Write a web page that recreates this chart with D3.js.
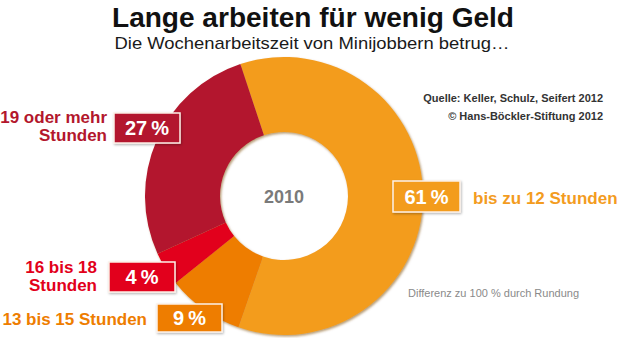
<!DOCTYPE html>
<html>
<head>
<meta charset="utf-8">
<script src="https://cdn.jsdelivr.net/npm/d3@7"></script>
<style>
  html, body { margin: 0; padding: 0; background: #fff; }
  svg { display: block; }
  text { font-family: "Liberation Sans", Arial, Helvetica, sans-serif; }
</style>
</head>
<body>
<svg id="chart" width="620" height="338"></svg>
<script>
// Weekly working hours of mini-jobbers, 2010 (shares in %)
const categories = ["bis zu 12 Stunden", "13 bis 15 Stunden", "16 bis 18 Stunden", "19 oder mehr Stunden"];
const values = [61, 9, 4, 27];
const palette = ["#F39C1F", "#EE7D00", "#E2001A", "#B3172D"];
const yearLabel = "2010";

const title = "Lange arbeiten für wenig Geld";
const subtitle = "Die Wochenarbeitszeit von Minijobbern betrug…";
const sourceLines = ["Quelle: Keller, Schulz, Seifert 2012", "\u00A9 Hans-Böckler-Stiftung 2012"];
const footnote = "Differenz zu 100 % durch Rundung";

// Placement of the category captions and value boxes
const labelLayout = [
  { box: [393, 181, 67, 31], lines: ["bis zu 12 Stunden"], anchor: "start", x: 473, y: [204] },
  { box: [157, 304, 65, 28], lines: ["13 bis 15 Stunden"], anchor: "end", x: 147, y: [325] },
  { box: [109, 262, 66, 30], lines: ["16 bis 18", "Stunden"], anchor: "end", x: 97, y: [273, 291] },
  { box: [114, 113, 66, 30], lines: ["19 oder mehr", "Stunden"], anchor: "end", x: 107, y: [123, 141] }
];

const svg = d3.select("#chart");
const defs = svg.append("defs");

const ringShadow = defs.append("filter").attr("id", "ringShadow")
  .attr("x", "-10%").attr("y", "-10%").attr("width", "120%").attr("height", "120%");
ringShadow.append("feDropShadow")
  .attr("dx", 1.2).attr("dy", 1.5).attr("stdDeviation", 1.2)
  .attr("flood-color", "#7a4a00").attr("flood-opacity", 0.55);

const boxShadow = defs.append("filter").attr("id", "boxShadow")
  .attr("x", "-20%").attr("y", "-30%").attr("width", "140%").attr("height", "160%");
boxShadow.append("feDropShadow")
  .attr("dx", 0.8).attr("dy", 1.2).attr("stdDeviation", 1.2)
  .attr("flood-color", "#000").attr("flood-opacity", 0.3);

// Title block
svg.append("text")
  .attr("x", 313).attr("y", 27)
  .attr("text-anchor", "middle")
  .attr("font-size", 28).attr("font-weight", "bold").attr("fill", "#111")
  .attr("textLength", 402).attr("lengthAdjust", "spacingAndGlyphs")
  .text(title);

svg.append("text")
  .attr("x", 312).attr("y", 49)
  .attr("text-anchor", "middle")
  .attr("font-size", 17).attr("fill", "#1a1a1a")
  .attr("textLength", 395).attr("lengthAdjust", "spacingAndGlyphs")
  .text(subtitle);

// Donut
const cx = 284, cy = 196;
const outerR = 139, innerR = 64;
const start = -18.3 * Math.PI / 180;

const pie = d3.pie().sort(null).value(d => d)
  .startAngle(start).endAngle(start + 2 * Math.PI);
const arc = d3.arc().innerRadius(innerR).outerRadius(outerR);
const color = d3.scaleOrdinal().domain(categories).range(palette);

const ring = svg.append("g")
  .attr("transform", `translate(${cx},${cy})`)
  .attr("filter", "url(#ringShadow)");
ring.selectAll("path")
  .data(pie(values))
  .join("path")
  .attr("d", arc)
  .attr("fill", (d, i) => color(categories[i]));

svg.append("text")
  .attr("x", cx).attr("y", cy + 7)
  .attr("text-anchor", "middle")
  .attr("font-size", 18).attr("font-weight", "bold").attr("fill", "#7a7a7a")
  .text(yearLabel);

// Value boxes and captions
const fmt = v => `${v}\u202F%`;
labelLayout.forEach((L, i) => {
  const c = color(categories[i]);
  const [bx, by, bw, bh] = L.box;
  svg.append("rect")
    .attr("x", bx).attr("y", by).attr("width", bw).attr("height", bh)
    .attr("fill", c).attr("stroke", "#fdf1e8").attr("stroke-width", 1.5)
    .attr("filter", "url(#boxShadow)");
  svg.append("text")
    .attr("x", bx + bw / 2).attr("y", by + bh / 2 + 7)
    .attr("text-anchor", "middle")
    .attr("font-size", 20).attr("font-weight", "bold").attr("fill", "#fff")
    .text(fmt(values[i]));
  L.lines.forEach((line, j) => {
    svg.append("text")
      .attr("x", L.x).attr("y", L.y[j])
      .attr("text-anchor", L.anchor)
      .attr("font-size", 17).attr("font-weight", "bold").attr("fill", c)
      .text(line);
  });
});

// Source and note
sourceLines.forEach((s, i) => {
  svg.append("text")
    .attr("x", 603).attr("y", 102 + i * 18)
    .attr("text-anchor", "end")
    .attr("font-size", 11).attr("font-weight", "bold").attr("fill", "#333")
    .text(s);
});

svg.append("text")
  .attr("x", 408).attr("y", 297)
  .attr("font-size", 11).attr("fill", "#8a8a8a")
  .text(footnote);
</script>
</body>
</html>
